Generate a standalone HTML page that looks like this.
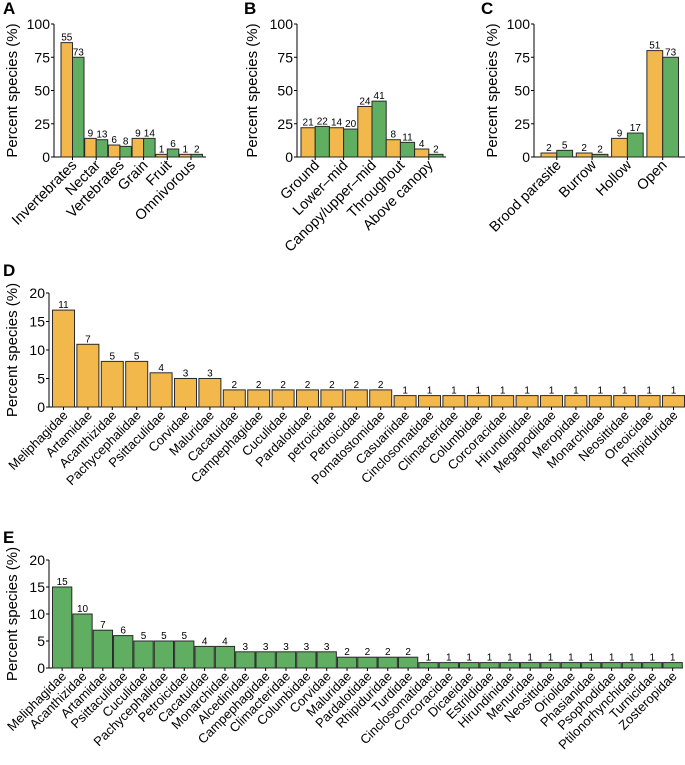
<!DOCTYPE html>
<html><head><meta charset="utf-8"><style>
html,body{margin:0;padding:0;background:#fff;}
svg{display:block;font-family:"Liberation Sans",Arial,sans-serif;}
</style></head><body>
<svg id="fig" width="685" height="765" viewBox="0 0 685 765" xmlns="http://www.w3.org/2000/svg"></svg>
<script>
// Panel A: diet
const catsA = ["Invertebrates","Nectar","Vertebrates","Grain","Fruit","Omnivorous"];
const orangeA = [86,14,9,14,2,2];
const greenA = [75,13,8,14,6,2];
const orangeLabA = ["55","9","6","9","1","1"];
const greenLabA = ["73","13","8","14","6","2"];
// Panel B: foraging stratum
const catsB = ["Ground","Lower–mid","Canopy/upper–mid","Throughout","Above canopy"];
const orangeB = [22,22,38,13,6];
const greenB = [23,21,42,11,2];
const orangeLabB = ["21","14","24","8","4"];
const greenLabB = ["22","20","41","11","2"];
// Panel C: nest type
const catsC = ["Brood parasite","Burrow","Hollow","Open"];
const orangeC = [3,3,14,80];
const greenC = [5,2,18,75];
const orangeLabC = ["2","2","9","51"];
const greenLabC = ["5","2","17","73"];
// Panel D
const catsD = ["Meliphagidae","Artamidae","Acanthizidae","Pachycephalidae","Psittaculidae","Corvidae","Maluridae","Cacatuidae","Campephagidae","Cuculidae","Pardalotidae","petroicidae","Petroicidae","Pomatostomidae","Casuariidae","Cinclosomatidae","Climacteridae","Columbidae","Corcoracidae","Hirundinidae","Megapodiidae","Meropidae","Monarchidae","Neosittidae","Oreoicidae","Rhipiduridae"];
const valsD = [17,11,8,8,6,5,5,3,3,3,3,3,3,3,2,2,2,2,2,2,2,2,2,2,2,2];
const labsD = ["11","7","5","5","4","3","3","2","2","2","2","2","2","2","1","1","1","1","1","1","1","1","1","1","1","1"];
// Panel E
const catsE = ["Meliphagidae","Acanthizidae","Artamidae","Psittaculidae","Cuculidae","Pachycephalidae","Petroicidae","Cacatuidae","Monarchidae","Alcedinidae","Campephagidae","Climacteridae","Columbidae","Corvidae","Maluridae","Pardalotidae","Rhipiduridae","Turdidae","Cinclosomatidae","Corcoracidae","Dicaeidae","Estrildidae","Hirundinidae","Menuridae","Neosittidae","Oriolidae","Phasianidae","Psophodidae","Ptilonorhynchidae","Turnicidae","Zosteropidae"];
const valsE = [15,10,7,6,5,5,5,4,4,3,3,3,3,3,2,2,2,2,1,1,1,1,1,1,1,1,1,1,1,1,1];
const labsE = ["15","10","7","6","5","5","5","4","4","3","3","3","3","3","2","2","2","2","1","1","1","1","1","1","1","1","1","1","1","1","1"];
const ticksABC = [0,25,50,75,100];
const ticksDE = [0,5,10,15,20];

const NS="http://www.w3.org/2000/svg";
const svg=document.getElementById('fig');
const ORANGE="#F2B84B", GREEN="#5FAE62", STROKE="#2a2a2a";
function mk(tag,attrs,parent){const e=document.createElementNS(NS,tag);for(const k in attrs)e.setAttribute(k,attrs[k]);(parent||svg).appendChild(e);return e;}

function panel(o){
  const g=mk('g',{});
  
  
  const y=v=>o.y0-(v/o.ymax)*(o.y0-o.y1);
  const lt=mk('text',{x:o.letterX,y:o.letterY,'font-size':17,'font-weight':'bold'},g);lt.textContent=o.letter;
  
  
  const yl=mk('text',{x:0,y:0,'font-size':15,'text-anchor':'middle',transform:`translate(${o.ylabX},${(o.y0+o.y1)/2}) rotate(-90)`},g);yl.textContent="Percent species (%)";
  
  
  mk('line',{x1:o.ax,y1:o.y1,x2:o.ax,y2:o.y0,stroke:'#000','stroke-width':1},g);
  mk('line',{x1:o.ax,y1:o.y0,x2:o.axEnd,y2:o.y0,stroke:'#000','stroke-width':1},g);
  o.ticks.forEach(t=>{
    mk('line',{x1:o.ax-3,y1:y(t),x2:o.ax,y2:y(t),stroke:'#000'},g);
    const tt=mk('text',{x:o.ax-4,y:y(t)+5,'font-size':o.tickFs,'text-anchor':'end'},g);tt.textContent=t;
    
    
  });
  o.cats.forEach((c,i)=>{
    const gx=o.bx+i*o.pitch;
    const center=(o.series.length===2)?gx+o.bw:gx+o.bw/2;
    o.series.forEach((s,j)=>{
      const x=gx+j*o.bw;
      const r=mk('rect',{x:x,y:y(s.vals[i]),width:o.bw,height:o.y0-y(s.vals[i]),fill:s.color,stroke:STROKE,'stroke-width':1},g);
      
      
      const tl=mk('text',{x:x+o.bw/2,y:y(s.vals[i])-2,'font-size':10,'text-anchor':'middle'},g);tl.textContent=s.labs[i];
      
      
    });
    mk('line',{x1:center,y1:o.y0,x2:center,y2:o.y0+3,stroke:'#000'},g);
    const xl=mk('text',{x:0,y:0,'font-size':o.xFs,'text-anchor':'end',transform:`translate(${center+5},${o.y0+9}) rotate(-45)`},g);xl.textContent=c;
    
    
  });
}

panel({name:'panel-a-diet',letter:'A',letterX:3,letterY:14,ylabX:17,ax:54,axEnd:206,bx:61,pitch:23.7,bw:11.5,y0:157,y1:24,ymax:100,ticks:ticksABC,tickFs:14,xFs:14.5,cats:catsA,
  series:[{key:'orange',vals:orangeA,labs:orangeLabA,color:ORANGE},{key:'green',vals:greenA,labs:greenLabA,color:GREEN}]});
panel({name:'panel-b-stratum',letter:'B',letterX:244,letterY:14,ylabX:257,ax:297,axEnd:446,bx:301,pitch:28.4,bw:14.2,y0:157,y1:24,ymax:100,ticks:ticksABC,tickFs:14,xFs:14.5,cats:catsB,
  series:[{key:'orange',vals:orangeB,labs:orangeLabB,color:ORANGE},{key:'green',vals:greenB,labs:greenLabB,color:GREEN}]});
panel({name:'panel-c-nest',letter:'C',letterX:481,letterY:14,ylabX:497,ax:534,axEnd:685,bx:541,pitch:35.3,bw:15.8,y0:157,y1:24,ymax:100,ticks:ticksABC,tickFs:14,xFs:14.5,cats:catsC,
  series:[{key:'orange',vals:orangeC,labs:orangeLabC,color:ORANGE},{key:'green',vals:greenC,labs:greenLabC,color:GREEN}]});
panel({name:'panel-d-families',letter:'D',letterX:3,letterY:276,ylabX:17,ax:49,axEnd:683,bx:52.5,pitch:24.4,bw:22,y0:407,y1:293,ymax:20,ticks:ticksDE,tickFs:14,xFs:13,cats:catsD,
  series:[{key:'orange',vals:valsD,labs:labsD,color:ORANGE}]});
panel({name:'panel-e-families',letter:'E',letterX:3,letterY:543,ylabX:17,ax:49,axEnd:683,bx:52.5,pitch:20.35,bw:19.3,y0:668,y1:560,ymax:20,ticks:ticksDE,tickFs:14,xFs:13,cats:catsE,
  series:[{key:'green',vals:valsE,labs:labsE,color:GREEN}]});
</script>
</body></html>
